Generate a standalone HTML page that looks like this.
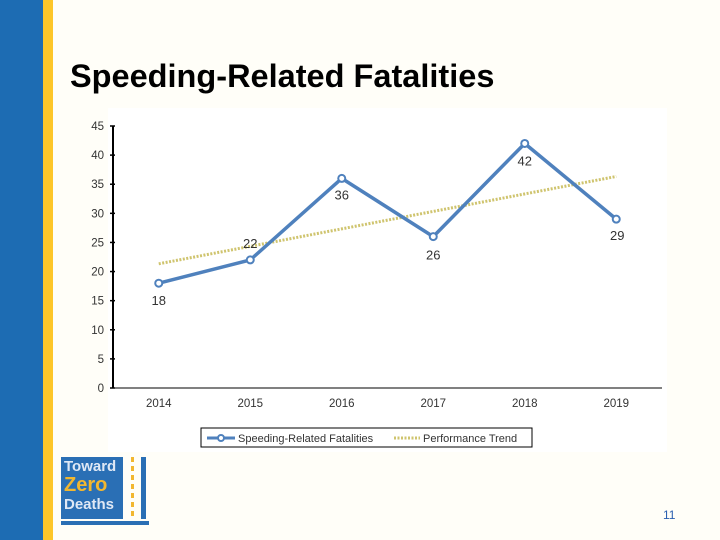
<!DOCTYPE html>
<html><head><meta charset="utf-8"><style>
body{margin:0;width:720px;height:540px;overflow:hidden;background:#fffef8;font-family:"Liberation Sans",sans-serif;position:relative}
</style></head><body>
<div style="position:absolute;left:0;top:0;width:43px;height:540px;background:#1d6cb3"></div>
<div style="position:absolute;left:43px;top:0;width:10px;height:540px;background:#fdc62a"></div>
<div style="position:absolute;left:70px;top:58px;font-size:32.5px;font-weight:bold;color:#000;white-space:nowrap">Speeding-Related Fatalities</div>
<div style="position:absolute;left:108px;top:108px;width:559px;height:344px;background:#fff"></div>
<div style="position:absolute;left:61px;top:457px;width:88px;height:72px">
 <div style="position:absolute;left:0;top:0;width:62px;height:62px;background:#2a6fb5"></div>
 <div style="position:absolute;left:3px;top:1px;font-size:15px;font-weight:bold;color:#dfe8f5;line-height:18px">Toward<br><span style="color:#f2b730;font-size:20px">Zero</span><br>Deaths</div>
 <div style="position:absolute;left:70px;top:0;width:3px;height:62px;background:repeating-linear-gradient(#f2b730 0 5px,transparent 5px 9px)"></div>
 <div style="position:absolute;left:80px;top:0;width:5px;height:62px;background:#2a6fb5"></div>
 <div style="position:absolute;left:0;top:64px;width:88px;height:4px;background:#2a6fb5"></div>
</div>
<div style="position:absolute;left:663px;top:508px;font-size:12px;color:#2a5fb0">11</div>
<svg id="chart" width="720" height="540" style="position:absolute;left:0;top:0"></svg>
<script>
const categories=["2014","2015","2016","2017","2018","2019"];
const fatalities=[18,22,36,26,42,29];
const yTicks=[0,5,10,15,20,25,30,35,40,45];
const NS="http://www.w3.org/2000/svg";
const svg=document.getElementById('chart');
const x0=113,x1=662,yTop=126,yBot=388,yMax=45;
const step=(x1-x0)/categories.length;
const X=i=>x0+step*(i+0.5);
const Y=v=>yBot-(v/yMax)*(yBot-yTop);
function el(t,a,txt){const e=document.createElementNS(NS,t);for(const k in a)e.setAttribute(k,a[k]);if(txt!==undefined)e.textContent=txt;svg.appendChild(e);return e;}
let e=el('line',{x1:x0,y1:yTop,x2:x0,y2:yBot,stroke:'#000','stroke-width':2});

e=el('line',{x1:x0,y1:yBot,x2:x1,y2:yBot,stroke:'#000','stroke-width':1});

yTicks.forEach(t=>{
 el('line',{x1:x0-3,y1:Y(t),x2:x0+2,y2:Y(t),stroke:'#000','stroke-width':1.5});
 const l=el('text',{x:104,y:Y(t)+4,'text-anchor':'end','font-size':11.5,fill:'#333'},t);
 
});
categories.forEach((c,i)=>{
 const l=el('text',{x:X(i),y:407,'text-anchor':'middle','font-size':11.5,fill:'#333'},c);
 
});
// trend
const n=fatalities.length,mx=(n-1)/2,my=fatalities.reduce((a,b)=>a+b)/n;
let sxy=0,sxx=0;fatalities.forEach((v,i)=>{sxy+=(i-mx)*(v-my);sxx+=(i-mx)*(i-mx);});
const slope=sxy/sxx,icp=my-slope*mx;
e=el('line',{x1:X(0),y1:Y(icp),x2:X(n-1),y2:Y(icp+slope*(n-1)),stroke:'#cfc46e','stroke-width':3,'stroke-dasharray':'2 1.5'});

e=el('polyline',{points:fatalities.map((v,i)=>X(i)+','+Y(v)).join(' '),fill:'none',stroke:'#4f81bd','stroke-width':3.5,'stroke-linejoin':'round'});

const offs=[[0,22],[0,-12],[0,21],[0,23],[0,22],[1,21]];
fatalities.forEach((v,i)=>{
 const p=el('circle',{cx:X(i),cy:Y(v),r:3.5,fill:'#fff',stroke:'#4f81bd','stroke-width':2});
 
 const l=el('text',{x:X(i)+offs[i][0],y:Y(v)+offs[i][1],'text-anchor':'middle','font-size':13,fill:'#333'},v);
 
});
// legend
const lg=el('rect',{x:201,y:428,width:331,height:19,fill:'#fff',stroke:'#000','stroke-width':1});

el('line',{x1:207,y1:438,x2:235,y2:438,stroke:'#4f81bd','stroke-width':3});
el('circle',{cx:221,cy:438,r:3,fill:'#fff',stroke:'#4f81bd','stroke-width':2});
e=el('text',{x:238,y:442,'font-size':11,fill:'#333'},'Speeding-Related Fatalities');

el('line',{x1:394,y1:438,x2:420,y2:438,stroke:'#cfc46e','stroke-width':3,'stroke-dasharray':'2 1.5'});
e=el('text',{x:423,y:442,'font-size':11,fill:'#333'},'Performance Trend');

</script>
</body></html>
